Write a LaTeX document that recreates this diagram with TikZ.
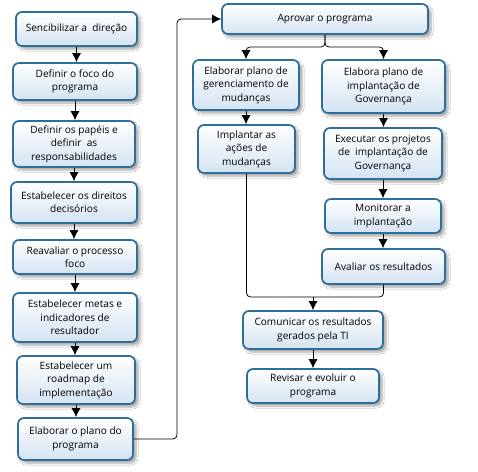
\documentclass[tikz,border=0pt]{standalone}
\usepackage{fontspec}
\setmainfont{Open Sans}
\usetikzlibrary{arrows.meta,shadows.blur}
\definecolor{boxborder}{RGB}{46,110,154}
\definecolor{boxfillbottom}{RGB}{212,227,242}
\tikzset{
  stepbox/.style={rectangle, rounded corners=6pt, draw=boxborder, line width=1.7pt,
    top color=white, bottom color=boxfillbottom, align=center, inner sep=1pt,
    font=\fontsize{10.1}{13.4}\selectfont,
    blur shadow={shadow xshift=3pt, shadow yshift=-3pt, shadow blur steps=6, shadow opacity=35}},
  conn/.style={line width=0.8pt, draw=black, -{Latex[length=9pt,width=9pt]}},
  plainconn/.style={line width=0.8pt, draw=black}
}
\begin{document}
\begin{tikzpicture}[x=1pt,y=-1pt]
\useasboundingbox[fill=white] (0,0) rectangle (478,471);
% left column
\node[stepbox, minimum width=121pt, minimum height=34pt] (b1) at (76.5,29) {Sencibilizar a\ \ direção};
\node[stepbox, minimum width=124pt, minimum height=37pt] (b2) at (75,81.5) {Definir o foco do\\programa};
\node[stepbox, minimum width=122pt, minimum height=46pt] (b3) at (74,144) {Definir os papéis e\\definir\ \ as\\responsabilidades};
\node[stepbox, minimum width=126pt, minimum height=41pt] (b4) at (74,202.5) {Estabelecer os direitos\\decisórios};
\node[stepbox, minimum width=124pt, minimum height=34pt] (b5) at (75,257) {Reavaliar o processo\\foco};
\node[stepbox, minimum width=124pt, minimum height=49pt] (b6) at (75,317.5) {Estabelecer metas e\\indicadores de\\resultador};
\node[stepbox, minimum width=118pt, minimum height=48pt] (b7) at (76,380) {Estabelecer um\\roadmap de\\implementação};
\node[stepbox, minimum width=115pt, minimum height=42pt] (b8) at (75.5,439) {Elaborar o plano do\\programa};
% right part
\node[stepbox, minimum width=206pt, minimum height=30pt] (a1) at (325,19) {Aprovar o programa};
\node[stepbox, minimum width=106pt, minimum height=50pt] (g1) at (246,85) {Elaborar plano de\\gerenciamento de\\mudanças};
\node[stepbox, minimum width=123pt, minimum height=53pt] (i1) at (383.5,86.5) {Elabora plano de\\implantação de\\Governança};
\node[stepbox, minimum width=97pt, minimum height=48pt] (g2) at (246.5,149) {Implantar as\\ações de\\mudanças};
\node[stepbox, minimum width=118pt, minimum height=51pt] (i2) at (383,153.5) {Executar os projetos\\de\ \ implantação de\\Governança};
\node[stepbox, minimum width=116pt, minimum height=34pt] (i3) at (383,216) {Monitorar a\\implantação};
\node[stepbox, minimum width=123pt, minimum height=35pt] (i4) at (383.5,266.5) {Avaliar os resultados};
\node[stepbox, minimum width=140pt, minimum height=38pt] (c1) at (313,330) {Comunicar os resultados\\gerados pela TI};
\node[stepbox, minimum width=132pt, minimum height=34pt] (c2) at (313,386) {Revisar e evoluir o\\programa};
% left column arrows
\draw[conn] (b1.south) -- (b1.south |- b2.north);
\draw[conn] (b2.south) -- (b2.south |- b3.north);
\draw[conn] (b3.south) -- (b3.south |- b4.north);
\draw[conn] (b4.south) -- (b4.south |- b5.north);
\draw[conn] (b5.south) -- (b5.south |- b6.north);
\draw[conn] (b6.south) -- (b6.south |- b7.north);
\draw[conn] (b7.south) -- (b7.south |- b8.north);
% loop to Aprovar
\coordinate (lx) at (177,0);
\draw[conn, rounded corners=4pt] (b8.east) -- (lx |- b8.east) -- (lx |- a1.west) -- (a1.west);
% split
\coordinate (sy) at (0,47);
\draw[conn, rounded corners=4pt] (a1.south) -- (a1.south |- sy) -- (g1.north |- sy) -- (g1.north);
\draw[conn, rounded corners=4pt] (a1.south) -- (a1.south |- sy) -- (i1.north |- sy) -- (i1.north);
\draw[conn] (g1.south) -- (g1.south |- g2.north);
\draw[conn] (i1.south) -- (i1.south |- i2.north);
\draw[conn] (i2.south) -- (i2.south |- i3.north);
\draw[conn] (i3.south) -- (i3.south |- i4.north);
% merge
\coordinate (my) at (0,297);
\draw[plainconn, rounded corners=4pt] (g2.south) -- (g2.south |- my) -- (c1.north |- my);
\draw[plainconn, rounded corners=4pt] (i4.south) -- (i4.south |- my) -- (c1.north |- my);
\draw[conn] (c1.north |- my) -- (c1.north);
\draw[conn] (c1.south) -- (c1.south |- c2.north);
\end{tikzpicture}
\end{document}
